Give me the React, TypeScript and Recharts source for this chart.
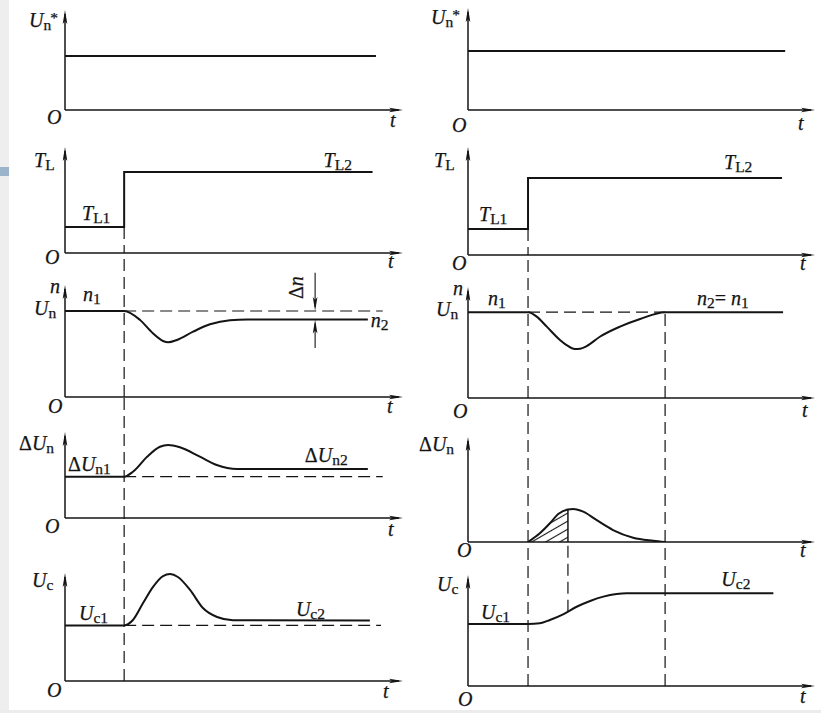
import React from 'react';
import { Area, ComposedChart, Line, ReferenceDot, ReferenceLine, XAxis, YAxis } from 'recharts';

type Pt = { t: number; v: number };
type Part = { s: string; k?: 'i' | 'r' | 'sub' | 'sup'; dx?: number };

const INK = '#141414';
const FONT = '"Liberation Serif", "Times New Roman", serif';

// ---- left column: speed loop with a proportional regulator (static error remains)
const refLeft: Pt[] = [
  { t: 0, v: 54 },
  { t: 92, v: 54 },
];
const loadLeft: Pt[] = [
  { t: 0, v: 24.5 },
  { t: 17.5, v: 24.5 },
  { t: 17.5, v: 76.4 },
  { t: 91, v: 76.4 },
];
const speedLeft: Pt[] = [
  { t: 0, v: 76.8 },
  { t: 17.5, v: 76.8 },
  { t: 22.2, v: 68.8 },
  { t: 26, v: 56.9 },
  { t: 29, v: 50 },
  { t: 30.5, v: 48.8 },
  { t: 33.1, v: 50.9 },
  { t: 37.9, v: 58.3 },
  { t: 42.9, v: 64.9 },
  { t: 48.8, v: 68.6 },
  { t: 54, v: 69.2 },
  { t: 89.6, v: 69.2 },
];
const errLeft: Pt[] = [
  { t: 0, v: 48 },
  { t: 17.5, v: 48 },
  { t: 20.1, v: 53.8 },
  { t: 24.3, v: 71.3 },
  { t: 28.1, v: 82.9 },
  { t: 30.5, v: 84.9 },
  { t: 34, v: 82.2 },
  { t: 39.9, v: 71.3 },
  { t: 44.9, v: 61.6 },
  { t: 50.9, v: 57 },
  { t: 89.6, v: 57 },
];
const ctrlLeft: Pt[] = [
  { t: 0, v: 51.5 },
  { t: 17.5, v: 51.5 },
  { t: 20.1, v: 56.5 },
  { t: 23.1, v: 72.2 },
  { t: 26, v: 87 },
  { t: 29, v: 97.2 },
  { t: 31.1, v: 99 },
  { t: 33.4, v: 96.3 },
  { t: 37, v: 84.3 },
  { t: 40.8, v: 67.6 },
  { t: 45, v: 59.3 },
  { t: 49.7, v: 56.3 },
  { t: 90.2, v: 56 },
];

// ---- right column: PI regulator (no static error)
const refRight: Pt[] = [
  { t: 0, v: 57.8 },
  { t: 91.4, v: 57.8 },
];
const loadRight: Pt[] = [
  { t: 0, v: 24 },
  { t: 17.3, v: 24 },
  { t: 17.3, v: 71.3 },
  { t: 90.5, v: 71.3 },
];
const speedRight: Pt[] = [
  { t: 0, v: 77.3 },
  { t: 17.4, v: 77.3 },
  { t: 19.8, v: 73.3 },
  { t: 22.7, v: 64.3 },
  { t: 26.5, v: 52.3 },
  { t: 28.4, v: 47.7 },
  { t: 30.8, v: 44.1 },
  { t: 32.3, v: 44.4 },
  { t: 34.2, v: 46.8 },
  { t: 38, v: 55.2 },
  { t: 43.8, v: 64.3 },
  { t: 49.6, v: 71.2 },
  { t: 56.8, v: 77.3 },
  { t: 90.8, v: 77.3 },
];
const errRight: Pt[] = [
  { t: 17.3, v: 0 },
  { t: 20.7, v: 8.3 },
  { t: 23.6, v: 17.8 },
  { t: 26, v: 26.7 },
  { t: 28.8, v: 31 },
  { t: 30.3, v: 31.4 },
  { t: 33.2, v: 28.9 },
  { t: 37, v: 21 },
  { t: 41.8, v: 11.4 },
  { t: 47.6, v: 4.1 },
  { t: 53.4, v: 1.2 },
  { t: 56.8, v: 0 },
];
const errRightHatch: Pt[] = [
  { t: 17.3, v: 0 },
  { t: 20.7, v: 8.3 },
  { t: 23.6, v: 17.8 },
  { t: 26, v: 26.7 },
  { t: 28.8, v: 31 },
];
const ctrlRight: Pt[] = [
  { t: 0, v: 55.8 },
  { t: 17.3, v: 55.8 },
  { t: 20.7, v: 56.5 },
  { t: 23.6, v: 59.5 },
  { t: 27.4, v: 64.6 },
  { t: 31.3, v: 71.4 },
  { t: 35.2, v: 76.6 },
  { t: 39, v: 80.5 },
  { t: 42.8, v: 82.9 },
  { t: 45.7, v: 83.6 },
  { t: 88, v: 83.6 },
];

// event times where the dashed guides run
const stepL = 17.5;
const stepR = 17.3;
const midR = 28.8;
const settleR = 56.8;
const guideEndL = 94;

// ---- layout
type Col = { left: number; width: number; axisX: number; arrowX: number };
type Row = { top: number; base: number; from: number };

const colL: Col = { left: 0, width: 410, axisX: 65, arrowX: 403 };
const colR: Col = { left: 410, width: 411, axisX: 468, arrowX: 815 };
const rowsL: Row[] = [
  { from: 0, top: 10, base: 110 },
  { from: 110, top: 147, base: 253 },
  { from: 253, top: 285, base: 397 },
  { from: 397, top: 432, base: 518 },
  { from: 518, top: 573, base: 681 },
];
const rowsR: Row[] = [
  { from: 0, top: 8, base: 110 },
  { from: 110, top: 147, base: 255 },
  { from: 255, top: 287, base: 398 },
  { from: 398, top: 437, base: 542 },
  { from: 542, top: 575, base: 686 },
];

const BIG = 20;
const SMALL = 15.5;

function Tex({ x, y, parts, rotate }: { x: number; y: number; parts: Part[]; rotate?: number }) {
  let cur = 0;
  return (
    <text
      x={x}
      y={y}
      fontFamily={FONT}
      fontSize={BIG}
      fill={INK}
      stroke={INK}
      strokeWidth={0.25}
      transform={rotate ? `rotate(${rotate} ${x} ${y})` : undefined}
    >
      {parts.map((p, i) => {
        const k = p.k ?? 'i';
        const off = k === 'sub' ? 3 : k === 'sup' ? -4 : 0;
        const dy = off - cur;
        cur = off;
        return (
          <tspan
            key={i}
            dx={p.dx}
            dy={dy}
            fontSize={k === 'sub' || k === 'sup' ? SMALL : BIG}
            fontStyle={k === 'i' ? 'italic' : 'normal'}
          >
            {p.s}
          </tspan>
        );
      })}
    </text>
  );
}

const I = (s: string): Part => ({ s, k: 'i' });
const R = (s: string): Part => ({ s, k: 'r' });
const S = (s: string): Part => ({ s, k: 'sub' });

const arrowShape = (p: any) => {
  const { x1, y1, x2, y2 } = p;
  const a = Math.atan2(y2 - y1, x2 - x1);
  const c = Math.cos(a);
  const s = Math.sin(a);
  const L = 14;
  const W = 2.3;
  const bx = x2 - c * L;
  const by = y2 - s * L;
  return (
    <g>
      <line x1={x1} y1={y1} x2={x2 - c * 4} y2={y2 - s * 4} stroke={INK} strokeWidth={p.strokeWidth ?? 1.5} />
      <path
        d={`M${x2},${y2} L${bx - s * W},${by + c * W} L${bx + c * 3},${by + s * 3} L${bx + s * W},${by - c * W} Z`}
        fill={INK}
      />
    </g>
  );
};

const arrow = (key: string, a: Pt, b: Pt, w = 1.5) => (
  <ReferenceLine
    key={key}
    segment={[
      { x: a.t, y: a.v },
      { x: b.t, y: b.v },
    ]}
    ifOverflow="visible"
    strokeWidth={w}
    shape={arrowShape}
  />
);

const guide = (key: string, a: Pt, b: Pt, dashed = true) => (
  <ReferenceLine
    key={key}
    segment={[
      { x: a.t, y: a.v },
      { x: b.t, y: b.v },
    ]}
    ifOverflow="visible"
    stroke={INK}
    strokeWidth={dashed ? 1.2 : 1.5}
    strokeDasharray={dashed ? '12 6' : undefined}
  />
);

const tag = (key: string, t: number, v: number, dx: number, dy: number, parts: Part[], rotate = 0) => (
  <ReferenceDot
    key={key}
    x={t}
    y={v}
    r={0}
    ifOverflow="visible"
    shape={(p: any) => <Tex x={p.cx + dx} y={p.cy + dy} parts={parts} rotate={rotate} />}
  />
);

const curve = (key: string, data: Pt[], type: 'monotone' | 'linear' = 'monotone') => (
  <Line
    key={key}
    data={data}
    dataKey="v"
    type={type}
    stroke={INK}
    strokeWidth={2}
    dot={false}
    activeDot={false}
    isAnimationActive={false}
  />
);

const O = (key: string, dx: number, dy: number) => tag(key, 0, 0, dx, dy, [I('O')]);
const T = (key: string, dx: number, dy: number) => tag(key, 100, 0, dx, dy, [I('t')]);

function panel(key: string, col: Col, row: Row, items: React.ReactNode[]) {
  const pad = 26;
  const height = row.base + pad - row.from;
  return (
    <div key={key} style={{ position: 'absolute', left: col.left, top: row.from, width: col.width, height }}>
      <ComposedChart
        width={col.width}
        height={height}
        margin={{
          top: row.top - row.from,
          bottom: pad,
          left: col.axisX - col.left,
          right: col.left + col.width - col.arrowX,
        }}
      >
        <XAxis type="number" dataKey="t" domain={[0, 100]} allowDataOverflow hide />
        <YAxis type="number" dataKey="v" domain={[0, 100]} allowDataOverflow hide />
        {arrow('xa', { t: 0, v: 0 }, { t: 100, v: 0 })}
        {arrow('ya', { t: 0, v: 0 }, { t: 0, v: 100 })}
        {items}
      </ComposedChart>
    </div>
  );
}

// reference-speed symbol: U, subscript n, raised asterisk
const UnStar: Part[] = [I('U'), S('n'), { s: '*', k: 'sup', dx: -1 }];

export default function App() {
  return (
    <div
      style={{
        position: 'absolute',
        left: 0,
        top: 0,
        width: 821,
        height: 713,
        background: '#fff',
        overflow: 'hidden',
      }}
    >
      <div style={{ position: 'absolute', left: 0, top: 0, width: 9, height: 710, background: '#eeeeee' }} />
      <div style={{ position: 'absolute', left: 0, top: 167, width: 9, height: 9, background: '#9bb4cc' }} />
      <div style={{ position: 'absolute', left: 0, top: 710, width: 821, height: 3, background: '#ececec' }} />

      {/* left column */}
      {panel('l1', colL, rowsL[0], [
        curve('c', refLeft, 'linear'),
        tag('lab', 0, 100, -36, 17, UnStar),
        O('o', -18, 14),
        T('t', -13, 17),
      ])}
      {panel('l2', colL, rowsL[1], [
        curve('c', loadLeft, 'linear'),
        guide('g', { t: stepL, v: loadLeft[1].v }, { t: stepL, v: 0 }),
        tag('lab', 0, 100, -31, 20, [I('T'), S('L')]),
        tag('l1', 0, loadLeft[0].v, 17, -7, [I('T'), S('L1')]),
        tag('l2', 91, loadLeft[3].v, -49, -5, [I('T'), S('L2')]),
        O('o', -20, 11),
        T('t', -15, 15),
      ])}
      {panel('l3', colL, rowsL[2], [
        guide('gv', { t: stepL, v: 0 }, { t: stepL, v: 200 }),
        guide('gh', { t: stepL, v: speedLeft[0].v }, { t: guideEndL, v: speedLeft[0].v }),
        curve('c', speedLeft),
        arrow('d1', { t: 74, v: 111 }, { t: 74, v: speedLeft[0].v }, 1.1),
        arrow('d2', { t: 74, v: 43.7 }, { t: 74, v: speedLeft[11].v }, 1.1),
        tag('dn', 74, 100, -12, 14, [R('Δ'), I('n')], -90),
        tag('n', 0, 100, -15, 8, [I('n')]),
        tag('un', 0, speedLeft[0].v, -31, 4, [I('U'), S('n')]),
        tag('n1', 0, speedLeft[0].v, 18, -10, [I('n'), S('1')]),
        tag('n2', 89.6, speedLeft[11].v, 3, 8, [I('n'), S('2')]),
        O('o', -17, 16),
        T('t', -16, 16),
      ])}
      {panel('l4', colL, rowsL[3], [
        guide('gv', { t: stepL, v: 0 }, { t: stepL, v: 250 }),
        guide('gh', { t: stepL, v: errLeft[0].v }, { t: guideEndL, v: errLeft[0].v }),
        curve('c', errLeft),
        tag('lab', 0, 100, -46, 18, [R('Δ'), I('U'), S('n')]),
        tag('e1', 0, errLeft[0].v, 3, -6, [R('Δ'), I('U'), S('n1')]),
        tag('e2', 89.6, errLeft[10].v, -63, -7, [R('Δ'), I('U'), S('n2')]),
        O('o', -20, 15),
        T('t', -15, 18),
      ])}
      {panel('l5', colL, rowsL[4], [
        guide('gv', { t: stepL, v: 0 }, { t: stepL, v: 200 }),
        guide('gh', { t: stepL, v: ctrlLeft[0].v }, { t: 93.5, v: ctrlLeft[0].v }),
        curve('c', ctrlLeft),
        tag('lab', 0, 100, -33, 14, [I('U'), S('c')]),
        tag('u1', 0, ctrlLeft[0].v, 14, -5, [I('U'), S('c1')]),
        tag('u2', 90.2, ctrlLeft[12].v, -74, -5, [I('U'), S('c2')]),
        O('o', -18, 16),
        T('t', -20, 17),
      ])}

      {/* right column */}
      {panel('r1', colR, rowsR[0], [
        curve('c', refRight, 'linear'),
        tag('lab', 0, 100, -37, 16, UnStar),
        O('o', -16, 22),
        T('t', -17, 20),
      ])}
      {panel('r2', colR, rowsR[1], [
        curve('c', loadRight, 'linear'),
        guide('g', { t: stepR, v: loadRight[1].v }, { t: stepR, v: 0 }),
        tag('lab', 0, 100, -34, 20, [I('T'), S('L')]),
        tag('l1', 0, loadRight[0].v, 11, -8, [I('T'), S('L1')]),
        tag('l2', 90.5, loadRight[3].v, -58, -9, [I('T'), S('L2')]),
        O('o', -16, 15),
        T('t', -15, 15),
      ])}
      {panel('r3', colR, rowsR[2], [
        guide('gv', { t: stepR, v: 0 }, { t: stepR, v: 200 }),
        guide('gv2', { t: settleR, v: 0 }, { t: settleR, v: speedRight[0].v }),
        guide('gh', { t: stepR, v: speedRight[0].v }, { t: settleR, v: speedRight[0].v }),
        curve('c', speedRight),
        tag('n', 0, 100, -15, 8, [I('n')]),
        tag('un', 0, speedRight[0].v, -32, 4, [I('U'), S('n')]),
        tag('n1', 0, speedRight[0].v, 20, -7, [I('n'), S('1')]),
        tag('n21', 90.8, speedRight[0].v, -86, -7, [I('n'), S('2'), R('='), { s: ' ', k: 'r' }, I('n'), S('1')]),
        O('o', -15, 20),
        T('t', -13, 19),
      ])}
      {panel('r4', colR, rowsR[3], [
        <defs key="defs">
          <pattern id="hatch" patternUnits="userSpaceOnUse" width={7} height={7} patternTransform="rotate(-30)">
            <line x1={0} y1={3.5} x2={7} y2={3.5} stroke={INK} strokeWidth={1.1} />
          </pattern>
        </defs>,
        guide('gv', { t: stepR, v: 0 }, { t: stepR, v: 200 }),
        guide('gv2', { t: settleR, v: 0 }, { t: settleR, v: 200 }),
        <Area
          key="hatch"
          data={errRightHatch}
          dataKey="v"
          type="monotone"
          stroke="none"
          fill="url(#hatch)"
          fillOpacity={1}
          dot={false}
          activeDot={false}
          isAnimationActive={false}
        />,
        guide('edge', { t: midR, v: 0 }, { t: midR, v: errRightHatch[4].v }, false),
        curve('c', errRight),
        tag('lab', 0, 100, -49, 14, [R('Δ'), I('U'), S('n')]),
        O('o', -11, 15),
        T('t', -15, 15),
      ])}
      {panel('r5', colR, rowsR[4], [
        guide('gv', { t: stepR, v: 0 }, { t: stepR, v: 200 }),
        guide('gv2', { t: settleR, v: 0 }, { t: settleR, v: 200 }),
        guide('gv3', { t: midR, v: 67 }, { t: midR, v: 200 }),
        curve('c', ctrlRight),
        tag('lab', 0, 100, -31, 16, [I('U'), S('c')]),
        tag('u1', 0, ctrlRight[0].v, 13, -5, [I('U'), S('c1')]),
        tag('u2', 88, ctrlRight[10].v, -52, -7, [I('U'), S('c2')]),
        O('o', -10, 20),
        T('t', -15, 17),
      ])}
    </div>
  );
}
